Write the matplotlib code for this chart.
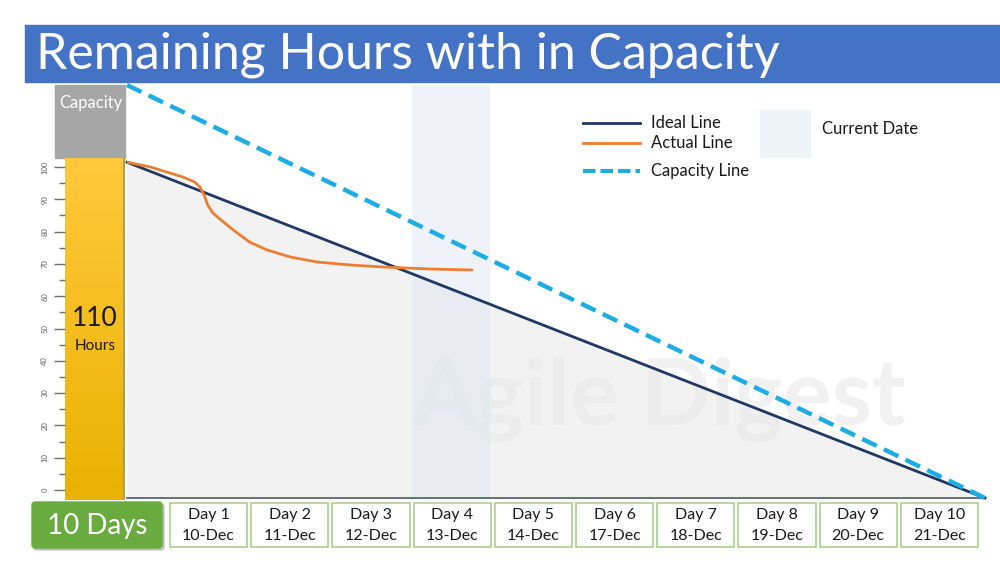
import numpy as np
import matplotlib.pyplot as plt
from matplotlib.patches import Rectangle, FancyBboxPatch
from matplotlib.colors import LinearSegmentedColormap

plt.rcParams['font.family'] = ['Lato', 'DejaVu Sans']

# ---- data ----
total_hours = 110
n_days = 10
ideal_days = [0, 10]
ideal_hours = [100, 0]
capacity_days = [0, 10]
capacity_hours = [123, 0]
actual_days = [0, 0.27, 0.65, 0.79, 0.85, 0.90, 0.94, 1.0, 1.11, 1.24, 1.43,
               1.63, 1.90, 2.21, 2.60, 2.98, 3.53, 4.02]
actual_hours = [100, 98.6, 95.6, 94.1, 92.6, 90.2, 87.3, 84.9, 82.5, 79.8, 76.2,
                73.9, 71.8, 70.3, 69.4, 68.8, 68.2, 67.9]
current_span = (3.32, 4.23)
day_labels = ["Day 1", "Day 2", "Day 3", "Day 4", "Day 5",
              "Day 6", "Day 7", "Day 8", "Day 9", "Day 10"]
date_labels = ["10-Dec", "11-Dec", "12-Dec", "13-Dec", "14-Dec",
               "17-Dec", "18-Dec", "19-Dec", "20-Dec", "21-Dec"]
scale_ticks = list(range(0, 101, 10))

NAVY = '#203864'
ORANGE = '#ED7D31'
CYAN = '#1CADE4'

W, H = 1000, 574
fig = plt.figure(figsize=(W / 100, H / 100), dpi=100)
fig.patch.set_facecolor('white')


def frac(x0, y0, x1, y1):
    # pixel box (top-left origin) -> figure fraction rect
    return [x0 / W, 1 - y1 / H, (x1 - x0) / W, (y1 - y0) / H]


# background overlay in pixel coords
bg = fig.add_axes([0, 0, 1, 1])
bg.set_xlim(0, W)
bg.set_ylim(H, 0)
bg.axis('off')

# title bar
bg.add_patch(Rectangle((25, 25), 975, 57, color='#4472C4', zorder=1))
bg.text(36, 55, "Remaining Hours with in Capacity", color='white',
        fontsize=36, va='center', ha='left', zorder=2)

# capacity box
bg.add_patch(Rectangle((55, 85), 70, 73, color='#A6A6A6', zorder=1))
bg.text(91, 103, "Capacity", color='white', fontsize=12, ha='center', va='center', zorder=2)

# main burndown axes
ax = fig.add_axes(frac(127, 85, 985, 498))
ax.set_xlim(0, n_days)
ax.set_ylim(0, capacity_hours[0])
ax.axis('off')
ax.patch.set_alpha(0)
ax.fill_between(ideal_days, ideal_hours, color='#F2F2F2', zorder=1)
ax.text(0.62, 0.24, "Agile Digest", transform=ax.transAxes, color='#E9E9E9',
        fontsize=66, fontweight='bold', ha='center', va='center', alpha=0.6, zorder=1.5)
ax.axvspan(*current_span, color='#DCE6F2', alpha=0.45, lw=0, zorder=2)
ax.plot([0, n_days], [0, 0], color='#4A5A78', lw=1.2, zorder=3, clip_on=False)
ax.plot(ideal_days, ideal_hours, color=NAVY, lw=2.0, zorder=4, clip_on=False)
ax.plot(actual_days, actual_hours, color=ORANGE, lw=2.0, zorder=5,
        solid_capstyle='round', solid_joinstyle='round')
ax.plot(capacity_days, capacity_hours, color=CYAN, lw=3.2, ls=(0, (3.6, 1.8)),
        zorder=6, clip_on=False)

# hours scale (yellow bar)
sc = fig.add_axes(frac(65, 158, 125, 500))
sc.set_xlim(0, 1)
sc.set_ylim(-3.1, 102.8)
grad = np.linspace(0, 1, 256).reshape(-1, 1)
ycm = LinearSegmentedColormap.from_list('y', ['#E9B200', '#FFC93C'])
sc.imshow(grad, aspect='auto', cmap=ycm, extent=[0, 1, -3.1, 102.8], origin='lower')
sc.axvline(0.985, color='#B89A50', lw=1.5)
sc.set_xticks([])
sc.set_yticks(scale_ticks)
sc.set_yticks([t + 5 for t in scale_ticks[:-1]], minor=True)
sc.set_yticklabels([str(t) for t in scale_ticks], rotation=90, va='center',
                   fontsize=5.5, color='#606060')
sc.tick_params(axis='y', which='major', length=8, width=1, color='#707070', pad=4)
sc.tick_params(axis='y', which='minor', length=4.5, width=1, color='#707070')
for s in sc.spines.values():
    s.set_visible(False)
sc.text(0.5, 0.53, str(total_hours), transform=sc.transAxes, ha='center', va='center',
        fontsize=19, color='#1a1a1a')
sc.text(0.5, 0.45, "Hours", transform=sc.transAxes, ha='center', va='center',
        fontsize=11, color='#1a1a1a')

# "10 Days" badge
bg.add_patch(FancyBboxPatch((34, 504), 130, 46, boxstyle='round,pad=0,rounding_size=3',
                            color='#9A9A9A', alpha=0.5, zorder=1))
bg.add_patch(FancyBboxPatch((32, 502), 130, 46, boxstyle='round,pad=0,rounding_size=3',
                            color='#6AAB3F', zorder=2))
bg.text(97, 526, f"{n_days} Days", color='white', fontsize=20, ha='center', va='center', zorder=3)

# day boxes
dx = fig.add_axes(frac(168, 502, 980, 548))
dx.set_xlim(-0.5, n_days - 0.5)
dx.set_ylim(0, 1)
dx.axis('off')
for i, (d, dt) in enumerate(zip(day_labels, date_labels)):
    dx.add_patch(Rectangle((i - 0.475, 0.02), 0.95, 0.96, facecolor='white',
                           edgecolor='#A9D18E', lw=1.2))
    dx.text(i, 0.71, d, ha='center', va='center', fontsize=11.5, color='#1a1a1a')
    dx.text(i, 0.26, dt, ha='center', va='center', fontsize=11.5, color='#1a1a1a')

# legend
bg.plot([583, 640], [123, 123], color=NAVY, lw=2)
bg.plot([583, 640], [143, 143], color=ORANGE, lw=2)
bg.plot([583, 640], [171, 171], color=CYAN, lw=3, ls=(0, (3, 1.2)))
bg.text(651, 123, "Ideal Line", fontsize=12, va='center', color='#1a1a1a')
bg.text(651, 143, "Actual Line", fontsize=12, va='center', color='#1a1a1a')
bg.text(651, 171, "Capacity Line", fontsize=12, va='center', color='#1a1a1a')
bg.add_patch(Rectangle((760, 110), 50, 47, color='#EEF2F9', zorder=1))
bg.text(822, 129, "Current Date", fontsize=12, va='center', color='#1a1a1a')

fig.savefig('out.png', dpi=100)
